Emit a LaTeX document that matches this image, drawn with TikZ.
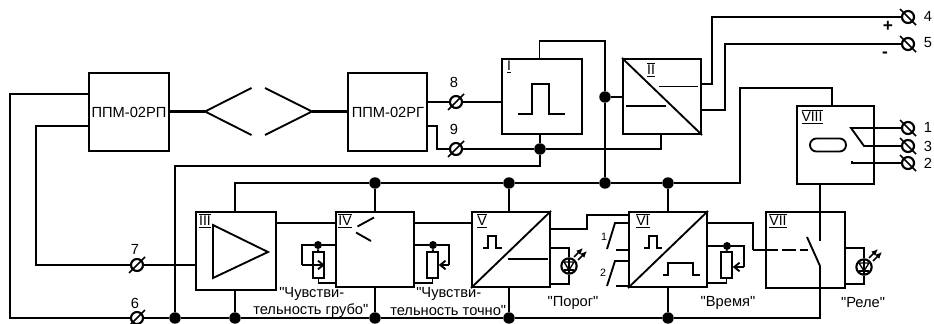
\documentclass[tikz,border=0pt]{standalone}
\usepackage{fontspec}
\setmainfont{Liberation Sans}
\newfontfamily\plainf{Liberation Sans}
\usetikzlibrary{arrows.meta,calc}
\newcommand{\romlab}[1]{$\underline{\overline{\hbox{#1}}}$}
\tikzset{
  x=0.75pt,y=-0.75pt,
  wire/.style={line width=1.4pt,line cap=butt,line join=miter},
  dot/.style={circle,fill=black,draw=none,minimum size=8.6pt,inner sep=0pt},
  minidot/.style={circle,fill=black,draw=none,minimum size=6pt,inner sep=0pt},
  sym/.style={line width=1.4pt},
  term/.style={circle,draw,line width=1.6pt,fill=white,minimum size=9pt,inner sep=0pt},
  slash/.style={line width=1.2pt},
  txt/.style={font=\plainf\fontsize{11}{13}\selectfont,inner sep=0pt},
  rom/.style={font=\plainf\fontsize{10.5}{12}\selectfont,inner sep=0pt,anchor=center},
  small/.style={font=\plainf\fontsize{8}{9}\selectfont,inner sep=0pt},
  pot/.style={draw,line width=1.4pt,fill=white,inner sep=0pt,minimum width=8pt,minimum height=19.5pt,anchor=north},
  barb/.style={wire,-{Straight Barb[length=4pt,width=6.5pt]}},
}
\newcommand{\mybox}[5]{\node[draw,line width=1.6pt,inner sep=0pt,minimum width=#4*0.75pt-1.6pt,minimum height=#5*0.75pt-1.6pt,anchor=north west] (#1) at (#2,#3) {};}
\newcommand{\myterm}[3]{\node[term] (#1) at (#2,#3) {}; \draw[slash] ($(#2,#3)+(-8,8)$) -- ++(16,-16);}
\newcommand{\rterm}[3]{\node[term] (#1) at (#2,#3) {}; \draw[slash] ($(#2,#3)+(-8,-8)$) -- ++(16,16);}
\newcommand{\mydot}[3]{\node[dot] (#1) at (#2,#3) {};}
\newcommand{\led}[3]{%
 \node[circle,draw,line width=1.6pt,minimum size=11.5pt,inner sep=0pt] (#1) at (#2,#3) {};
 \draw[line width=1pt] ($(#2,#3)+(-5,-4)$) -- ++(10,0) -- ($(#2,#3)+(0,4)$) -- cycle;
 \draw[line width=1pt] ($(#2,#3)+(-5,4)$) -- ++(10,0);
 \draw[line width=1pt] ($(#2,#3)+(0,-7)$) -- ($(#2,#3)+(0,7)$);
 \draw[line width=1.2pt,-{Latex[length=5pt,width=4.5pt]}] ($(#2,#3)+(5,-9)$) -- ++(9,-9);
 \draw[line width=1.2pt,-{Latex[length=5pt,width=4.5pt]}] ($(#2,#3)+(9,-6)$) -- ++(9,-9);
}
\begin{document}
\begin{tikzpicture}
\useasboundingbox (0,0) rectangle (934,324);
% boxes
\mybox{rp}{88}{72}{82}{80}
\mybox{rg}{347}{72}{81}{80}
\mybox{bI}{501}{58}{82}{77}
\mybox{bII}{622}{58}{80}{77}
\mybox{bIII}{195}{211}{82}{80}
\mybox{bIV}{335}{211}{80}{77}
\mybox{bV}{471}{211}{80}{77}
\mybox{bVI}{628}{211}{80}{77}
\mybox{bVII}{765}{211}{81}{78}
\mybox{bVIII}{796}{105}{79}{80}
\node[txt] (trp) at (129,112) {ППМ-02РП};
\node[txt] (trg) at (388,112) {ППМ-02РГ};
% terminals
\myterm{t6}{137}{318}
\myterm{t7}{137}{265}
\myterm{t8}{456}{102}
\myterm{t9}{456}{149}
\rterm{t4}{908}{17}
\rterm{t5}{908}{44}
\rterm{t1}{908}{128}
\rterm{t3}{908}{146}
\rterm{t2}{908}{163}
% dots
\mydot{d1}{175}{318}\mydot{d2}{235}{318}\mydot{d3}{375}{318}\mydot{d4}{509}{318}\mydot{d5}{668}{318}
\mydot{d6}{375}{183}\mydot{d7}{509}{183}\mydot{d8}{605}{183}\mydot{d9}{668}{183}
\mydot{d10}{605}{97}\mydot{d11}{540}{149}
\node[minidot] (d12) at (318,245) {};
\node[minidot] (d13) at (433,245) {};
\node[minidot] (d14) at (727,246) {};
% antenna nodes and pots
\coordinate (antL) at (205,111.5);
\coordinate (antR) at (312,111.5);
\node[pot] (p1) at (318.5,251) {};
\node[pot] (p2) at (432.5,251) {};
\node[pot] (p3) at (726.5,251) {};
\coordinate (relayEnd) at (820,318);
\coordinate (contact) at (820,266);
\coordinate (fixedC) at (820,241);
\coordinate (swTop) at (807,237);
\coordinate (c1) at (851,128);
\coordinate (c3) at (864,146);
\coordinate (c2) at (852,163);
% wires
\draw[wire] (rp.west |- 0,94) -- (10,94) -- (10,318) -- (t6);
\draw[wire] (t6) -- (d1);
\draw[wire] (d1) -- (d2);
\draw[wire] (d2) -- (d3);
\draw[wire] (d3) -- (d4);
\draw[wire] (d4) -- (d5);
\draw[wire] (d5) -- (relayEnd) -- (contact);
\draw[wire] (rp.west |- 0,126) -- (36,126) -- (36,265) -- (t7);
\draw[wire] (t7) -- (t7 -| bIII.west);
\draw[wire] (d1) -- (175,166) -- (540,166) -- (d11);
\draw[wire] (d11) -- (d11 |- bI.south);
\draw[wire] (bI.north -| 539.5,0) -- (539.5,41) -- (605,41) -- (d10);
\draw[wire] (d10) -- (d8);
\draw[wire] (d10) -- (d10 -| bII.west);
\draw[wire] (bIII.north -| d2) -- (235,183) -- (d6);
\draw[wire] (d6) -- (d7);
\draw[wire] (d7) -- (d8);
\draw[wire] (d8) -- (d9);
\draw[wire] (d9) -- (740,183) -- (740,88) -- (832,88) -- (bVIII.north -| 832,0);
\draw[wire] (d2) -- (d2 |- bIII.south);
\draw[wire] (d6) -- (d6 |- bIV.north);
\draw[wire] (d3) -- (d3 |- bIV.south);
\draw[wire] (d7) -- (d7 |- bV.north);
\draw[wire] (d4) -- (d4 |- bV.south);
\draw[wire] (d9) -- (d9 |- bVI.north);
\draw[wire] (d5) -- (d5 |- bVI.south);
\draw[wire] (bIII.east |- 0,223) -- (bIV.west |- 0,223);
\draw[wire] (bIV.east |- 0,223) -- (bV.west |- 0,223);
\draw[wire] (rg.east |- t8) -- (t8);
\draw[wire] (t8) -- (t8 -| bI.west);
\draw[wire] (427,126) -- (437,126) -- (437,149) -- (t9);
\draw[wire] (t9) -- (d11);
\draw[wire] (d11) -- (661,149) -- (661,135 |- bII.south);
\draw[wire] (bII.east |- 0,84) -- (712,84) -- (712,17) -- (t4);
\draw[wire] (bII.east |- 0,110) -- (725,110) -- (725,44) -- (t5);
\draw[wire] (t1) -- (c1) -- (c3) -- (t3);
\draw[wire] (t2) -- (c2) -- ++(0,-2.5);
% antenna
\draw[wire,line width=1.6pt] (rp.east |- antL) -- (antL);
\draw[wire] (251.5,88) -- (antL) -- (251.5,135);
\draw[wire] (265,88) -- (antR) -- (265,135);
\draw[wire,line width=1.6pt] (antR) -- (rg.west |- antR);
% oval
\draw[sym,rounded corners=4.8pt] (810,138.5) rectangle (846,151.5);
% pulses and symbols
\draw[line width=1.5pt] (518,114) -- (532,114) -- (532,84) -- (549,84) -- (549,114) -- (565,114);
\draw[sym] (bII.north west) -- (bII.south east);
\draw[sym] (626,106) -- (666,106);
\draw[sym] (659,86.5) -- (698,86.5);
\draw[sym] (213,225) -- (213,278) -- (268,252) -- cycle;
\draw[sym] (374,217.5) -- (357.5,226.5);
\draw[sym] (356,232.5) -- (371,241);
\draw[sym] (bV.south west) -- (bV.north east);
\draw[sym] (483,248) -- (488,248) -- (488,236) -- (496,236) -- (496,248) -- (502,248);
\draw[sym] (508,259) -- (548,259);
\draw[sym] (bVI.south west) -- (bVI.north east);
\draw[sym] (644,248) -- (649,248) -- (649,236) -- (657,236) -- (657,248) -- (662,248);
\draw[sym] (663,275) -- (668,275) -- (668,263) -- (693,263) -- (693,275) -- (700,275);
% V-VI
\draw[wire] (bV.east |- 0,229) -- (587,229) -- (587,215) -- (bVI.west |- 0,215);
\draw[wire] (bVI.east |- 0,223) -- (753,223) -- (753,250);
\draw[sym] (615,223) -- (607,249);
\draw[sym] (614,223) -- (628,223);
\draw[sym] (616,250) -- (628,250);
\draw[sym] (615,261) -- (607,286);
\draw[sym] (614,261) -- (628,261);
\draw[sym] (616,286) -- (628,286);
% VII
\draw[wire,dash pattern=on 18.5pt off 3pt on 11pt off 2.5pt on 9pt] (753,250) -- (808,250);
\draw[sym] (swTop) -- (contact);
\draw[wire] (bVIII.south -| fixedC) -- (fixedC);
% LEDs
\led{l1}{569}{266}
\led{l2}{864}{267}
\draw[wire] (bV.east |- 0,248) -- (569,248) -- (l1);
\draw[wire] (bV.east |- 0,284) -- (569,284) -- (l1);
\draw[wire] (bVII.east |- 0,248) -- (864,248) -- (l2);
\draw[wire] (bVII.east |- 0,284) -- (864,284) -- (l2);
% pots
\draw[wire] (bIV.west |- d12) -- (d12);
\draw[wire] (d12) -- (302,245) -- (302,265);
\draw[barb] (302,265) -- (p1.east |- 0,265);
\draw[wire] (d12) -- (p1);
\draw[wire] (p1) -- (318.5,283) -- (bIV.west |- 0,283);
\draw[wire] (bIV.east |- d13) -- (d13);
\draw[wire] (d13) -- (449,245) -- (449,265);
\draw[barb] (449,265) -- (p2.east |- 0,265);
\draw[wire] (d13) -- (p2);
\draw[wire] (p2) -- (432.5,283) -- (bIV.east |- 0,283);
\draw[wire] (bVI.east |- d14) -- (d14);
\draw[wire] (d14) -- (744,246) -- (744,267);
\draw[barb] (744,267) -- (p3.east |- 0,267);
\draw[wire] (d14) -- (p3);
\draw[wire] (p3) -- (726.5,283) -- (bVI.east |- 0,283);
% labels
\node[rom] (lI) at (509,66) {\romlab{I}};
\node[rom] (lII) at (651,70) {\romlab{II}};
\node[rom] (lIII) at (205,221) {\romlab{III}};
\node[rom] (lIV) at (345,221) {\romlab{IV}};
\node[rom] (lV) at (482,221) {\romlab{V}};
\node[rom] (lVI) at (643,221) {\romlab{VI}};
\node[rom] (lVII) at (778,221) {\romlab{VII}};
\node[rom] (lVIII) at (812,117) {\romlab{VIII}};
\node[txt] (n7) at (135,249) {7};
\node[txt] (n6) at (135,303) {6};
\node[txt] (n8) at (454,82) {8};
\node[txt] (n9) at (454,129) {9};
\node[txt] (n4) at (928,16) {4};
\node[txt] (n5) at (928,43) {5};
\node[txt] (n1) at (928,127) {1};
\node[txt] (n3) at (928,146) {3};
\node[txt] (n2) at (928,163) {2};
\node[txt,font=\plainf\fontsize{13}{13}\bfseries] (plus) at (888,26) {+};
\node[txt,font=\plainf\fontsize{13}{13}\bfseries] (minus) at (885,55) {-};
\node[small] (s1) at (604,237) {1};
\node[small] (s2) at (603,273) {2};
\node[txt,anchor=west] (q1) at (279,294) {"Чувстви-};
\node[txt,anchor=west] (q2) at (253,311) {тельность грубо"};
\node[txt,anchor=west] (q3) at (416,294) {"Чувстви-};
\node[txt,anchor=west] (q4) at (390,311) {тельность точно"};
\node[txt] (q5) at (573,303) {"Порог"};
\node[txt] (q6) at (728,303) {"Время"};
\node[txt] (q7) at (863,303) {"Реле"};
\end{tikzpicture}
\end{document}
